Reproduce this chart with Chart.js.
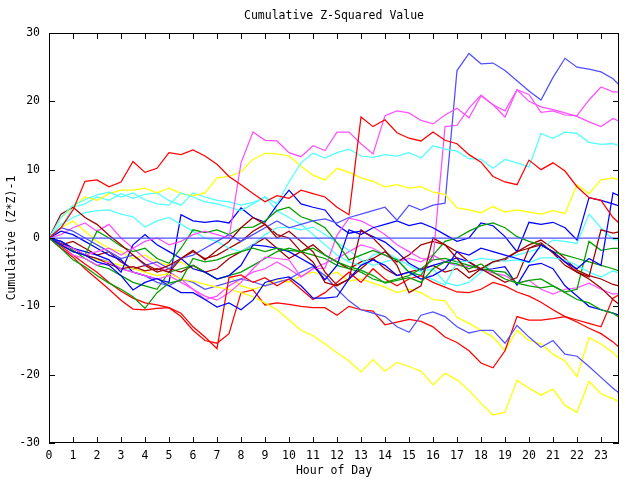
<!DOCTYPE html>
<html>
<head>
<meta charset="utf-8">
<script src="https://cdn.jsdelivr.net/npm/chart.js@4.4.1/dist/chart.umd.min.js"></script>
<style>
html,body{margin:0;padding:0;background:#ffffff;}
#wrap{width:640px;height:480px;}
</style>
</head>
<body>
<div id="wrap"><canvas id="c" width="640" height="480"></canvas></div>
<script>
const TITLE = 'Cumulative Z-Squared Value';
const X_TITLE = 'Hour of Day';
const Y_TITLE = 'Cumulative (Z*Z)-1';
const X_TICKS = [0,1,2,3,4,5,6,7,8,9,10,11,12,13,14,15,16,17,18,19,20,21,22,23];
const Y_TICKS = [-30,-20,-10,0,10,20,30];
const HOURS = [0,0.5,1,1.5,2,2.5,3,3.5,4,4.5,5,5.5,6,6.5,7,7.5,8,8.5,9,9.5,10,10.5,11,11.5,12,12.5,13,13.5,14,14.5,15,15.5,16,16.5,17,17.5,18,18.5,19,19.5,20,20.5,21,21.5,22,22.5,23,23.5,23.75];

const SLATE_ZERO = [0,0,0,0,0,0,0,0,0,0,0,0,0,0,0,0,0,0,0,0,0,0,0,0,0,0,0,0,0,0,0,0,0,0,0,0,0,0,0,0,0,0,0,0,0,0,0,0,0];
const RED_A = [0,1.5, 4.1,8.3, 8.5,7.5, 8.2,11.2, 9.6,10.2, 12.5,12.2, 12.9,12, 10.8,9, 7.8,6.5, 5.3,6.2, 5.8,7, 6.5,6, 4.5,3.4, 17.7,16.3, 17.3,15.4, 14.6,14.2, 15.5,14.3, 13.8,12.2, 11.1,9, 8.2,7.8, 11.4,10, 11,9.8, 7.5,5.9, 5.5,3, 2.2];
const RED_B = [0,-1.5, -2.8,-4.5, -6,-7.5, -9.1,-10.4, -10.5,-10.3, -10.2,-11, -13,-14.5, -16.2,-5.8, -5.4,-6.5, -5.8,-7, -6,-7.5, -9,-8, -6.5,-5, -6.5,-4.5, -6,-7, -6,-5.5, -6.5,-7.2, -7.9,-8, -7.5,-6.5, -7,-7.9, -8.5,-9.4, -10.5,-11.5, -12.3,-13.2, -14,-15.2, -16];
const RED_C = [0,-1.2, -2.5,-3.8, -5,-6.5, -7.8,-8.8, -9.5,-9.8, -10.2,-11.5, -13.5,-15, -15.4,-14, -8,-7.6, -9.8,-9.5, -9.7,-10, -10.2,-10.2, -11.3,-10, -10.5,-10.7, -12.7,-12.3, -11.9,-12.2, -13,-14.5, -15.3,-16.5, -18.3,-19, -16.5,-11.5, -12,-12, -11.8,-11.5, -12,-12.5, -13,-8.8, -8.3];
const DARK_A = [0,3.5, 4.5,3, 2,0.4, -1,-2.5, -3.8,-4.7, -4,-3, -1.8,-3.2, -1.8,-0.5, 1.5,3, 2,0, 1,-0.5, -2,-5, -6.9,-6, 1.2,0, -1.8,-4, -8,-7, 0,-1, -3,-5, -4.5,-3.5, -3,-2, -1.5,-1, -2,-3.5, -5,-5.7, 1.2,0.7, 0.9];
const DARK_B = [0,-0.8, -1.5,-2.5, -3,-3.8, -4.5,-4.2, -4.8,-4.5, -5,-3, -2,-3, -2.5,-1.5, -0.5,1, 2,0.5, 0,-2, -3.5,-6.5, -7,-6, -4.5,-3, -2,-3.5, -2.5,-1, -0.5,-1, -2,-3.5, -4.5,-5.5, -6.5,-5.8, -1.5,-0.7, -2.2,-4, -5,-6, -7.3,-9, -9.7];
const DARK_C = [0,-1, -0.5,-1.5, -2.5,-2, -3.5,-4.5, -4,-5, -4.5,-5, -4,-5, -4.5,-3, -2,-1, 0,-1.5, -3,-2, -1,-2.5, -3.5,-4.5, -3.5,-3, -4.5,-5.5, -5,-4.5, -4,-5, -4.5,-5.9, -4.5,-3.5, -3.2,-2, -1,-0.3, -1.5,-3, -4.7,-5.5, -6,-6.8, -7];
const GREEN_A = [0,-1.5, -3.2,-4.2, -5.5,-6.6, -7.5,-8.6, -10.3,-8, -6.6,-6.2, -3,-3.5, -3.2,-2.5, -2,-1.5, -2,-1.5, -1.8,-2, -1.5,-2.5, -3.5,-4.2, -4.7,-5.5, -6.6,-6.2, -5.8,-6.5, -4.5,-3.5, -3.8,-4.5, -3.8,-5, -6,-6.6, -6.2,-6, -7,-8, -9,-9.5, -10.5,-11, -11.6];
const GREEN_B = [0,-1, -2,-2.5, 1,0, -1.2,-2, -1.5,-3, -3.7,-1.5, 1.2,0.8, 1.2,0.5, 1.5,1.6, 2.5,4, 4.5,3.1, 2.5,1.5, -0.7,-3.2, -2.5,-1.8, -2.5,-3.2, -5,-5.5, -2.5,-0.5, 0,1, 1.8,2.2, 1.5,0.2, -0.5,-1, -2,-2.5, -3,-3.5, -4,-4.5, -4.8];
const GREEN_C = [0,-0.5, -1.8,-3, -4,-4.5, -5.5,-6.5, -7,-7.5, -5,-4.5, -4,-5, -6,-5.5, -5,-4, -3,-2, -1.5,-2, -2.5,-3, -4,-4.5, -5,-6, -6.5,-6, -5.5,-4.5, -3.2,-3, -3.5,-4, -4.5,-4.8, -5,-6.6, -7,-7.3, -7,-7.9, -7.5,-0.5, -1.8,-1.5, -1.5];
const BLUE_A = [0,-1, -2,-2.5, -3.5,-4, -5.5,-7.6, -6.5,-5.9, -7,-8, -8,-9, -10.1,-9.5, -10.5,-9.1, -6.5,-6, -5.7,-7, -8.8,-8.8, -8.6,-6, -4,-3.2, -4,-5.5, -5,-6, -5.5,-4.5, -2,-2.5, -1.5,-2, -2.5,-3, -3.5,-1, -2,-3.5, -4.5,-3, -4,6.6, 6.2];
const BLUE_B = [0,-0.5, -1.5,-2, -2.5,-3.2, -5,-1, 0.5,-1, -2,-3, -4.5,-5, -6,-5.5, -4,-1, -1.2,-1.5, -2,-3, -4,-6.1, -4,1.2, 0.5,1.5, 2,2.5, 1.8,2.2, 1.5,0.5, -0.5,0, 2.2,1.8, 0.2,-2, 2.3,2, 2.3,1.5, -0.3,5.9, 5.5,5, 4.7];
const BLUE_C = [0,1, 0.5,-0.5, -1.5,-2.5, -3.2,-5, -5.5,-6, -6.5,3.4, 2.5,2.3, 2.5,2.2, 4.4,3, 2.3,4.8, 7,5, 4.5,4.1, 1.9,0.7, 1,0.2, -0.6,-2, -3.7,-4.7, -4,-3.5, -2.9,-3.5, -4.7,-4.5, -4.2,-6.9, -4,-3.7, -4.5,-7, -8.5,-10, -10.5,-11, -11.3];
const SLATE_A = [0,1.5, 1,0, -1,-2, -3,-2.5, -4,-3.5, -4.5,-3, -2.5,-1.5, -0.5,0.5, -0.5,0.5, 1.5,2.5, 1.5,2, 2.5,2.8, 2.2,3, 3.5,4, 4.5,2.6, 4.8,4.1, 4.8,5.1, 24.5,27, 25.5,25.6, 24.5,23, 21.5,20.2, 23.5,26.3, 25,24.7, 24.3,23.3, 22.4];
const SLATE_B = [0,-0.5, -1.5,-2.5, -3,-3.5, -4.5,-5, -5.5,-6.5, -7,-6, -6.5,-7.5, -7,-6.5, -6,-6.4, -7,-6.5, -6,-5, -4.2,-5.5, -7.5,-9.2, -10.5,-11, -11.5,-13, -13.8,-11.3, -10.8,-11.5, -13,-13.9, -13.5,-13.5, -15.4,-12.8, -14.5,-16, -15,-17, -17.3,-18.8, -20.4,-22, -22.7];
const MAGENTA_A = [0,-1, -1.5,-2.5, -2,-1.5, -2.5,-1.5, -0.5,0, -1,-0.5, 0.5,1, 0.5,0, 11,15.5, 14.3,14.2, 12.5,11.9, 13.5,12.8, 15.5,15.5, 13.8,12.3, 17.9,18.6, 18.3,17.2, 16.7,18, 19,17.6, 20.8,19.5, 17.7,21.7, 21,18.4, 18.6,18, 17.9,20.2, 22.1,21.4, 21.4];
const MAGENTA_B = [0,-1.5, -2.5,-3, -4,-3.5, -4.5,-5, -5.5,-6, -5.5,-6.5, -7.5,-8.5, -9.1,-8, -6.5,-4.5, -2.8,-3, -3.2,-5.7, -4.5,-4.4, 0.4,2.9, 2.5,1.6, 0.5,-1, -2,-3, -3.2,16.3, 16.5,19, 20.9,19.5, 18.6,21.7, 20,19.2, 18.8,18.3, 17.8,17, 16.3,17.5, 17.1];
const MAGENTA_C = [0,0.5, 1.5,2.2, 1,2, 0,-1.5, -3,-4, -5,-6, -7.5,-9, -8.5,-7, -6,-5, -4.5,-3.5, -4.5,-5.7, -4.5,-3.7, -3,-2, -1,-1.5, -2.5,-3.5, -3,-3.5, -2.5,-3.5, -4,-4.2, -4.5,-5.1, -5.5,-6.6, -6.2,-7.5, -8.2,-7.5, -7.3,-6.6, -7.5,-8.2, -8.1];
const CYAN_A = [0,3, 4.8,5.6, 6.3,6.7, 6,6.6, 5.6,5, 4.8,6.6, 6,5.3, 5,4.5, 4,5, 6,5, 8.2,11, 12.4,11.7, 12.5,13, 12,11.8, 12.2,12, 12.5,11.7, 13.5,13, 12.7,11.6, 11.5,10.2, 11.5,11, 10.4,15.3, 14.6,15.5, 15.3,14, 13.7,13.8, 13.5];
const CYAN_B = [0,2, 3,3.7, 4,4.1, 3.5,3.1, 1.6,2.5, 3,2, 1,0, -0.5,-1.5, -2,-1, 0.5,1.5, 1.6,1.2, 1.6,0.5, -0.7,-1.8, -3.2,-4, -3.5,-3, -5.1,-5.4, -6.1,-6.9, -3.5,-3.4, -3,-3.2, -3.4,-3.2, -3.6,-2.9, -2.9,-3.2, -4,-5, -5.7,-4.8, -5.1];
const CYAN_C = [0,1.5, 4.5,5, 6,5.5, 6.5,5.8, 6.4,6.6, 5.5,4.8, 6.6,6, 5.5,5.3, 4.8,5.2, 6,4, 3,2, 0.5,-1, -2.5,-3.5, -4,-2.5, -2,-3, -4,-5, -4.5,-6.5, -7,-6.5, -5,-3.5, -3,-2.5, -2,-1.5, -0.3,-0.5, -0.8,3.5, 1.5,-0.2, -0.3];
const YELLOW_A = [0,3, 4.5,6, 5.5,6.5, 7,7, 7.3,6.6, 7.3,6.5, 6.2,6.6, 8.8,9, 9.7,11.5, 12.4,12.3, 12,10.5, 9.2,8.5, 10.2,9.6, 8.8,8.3, 7.5,7.8, 7.3,7.5, 6.7,6.4, 4.4,4.1, 3.7,4.6, 3.8,4.1, 3.8,3.5, 4,3.6, 7.8,6.5, 8.5,8.8, 8.5];
const YELLOW_B = [0,-1, -2,-2.5, -3.2,-3.5, -4,-4.5, -5,-5.5, -5.2,-6, -6.3,-6.8, -7.2,-7.5, -8,-8.6, -9.5,-10.5, -12,-13.5, -14.3,-15.5, -16.8,-18, -19.6,-17.8, -19.5,-18.2, -18.8,-19.5, -21.5,-19.8, -20.8,-22.3, -24.2,-25.9, -25.5,-20.8, -22,-23, -22.1,-24.5, -25.5,-21, -22.8,-23.5, -24];
const YELLOW_C = [0,1.5, 2.5,1, -0.5,-1.5, -2,-3, -2.5,-3.5, -4,-3.5, -4.5,-5, -6,-5.5, -7,-7.5, -7,-6, -6.5,-5.5, -5,-5.5, -5,-6.3, -6,-6.6, -7.2,-8, -7.5,-8, -9,-9.2, -11.6,-12.5, -13.5,-14.5, -16.5,-13.5, -15,-15.5, -17,-18, -20.3,-14.6, -15.5,-16.8, -17.6];

const C_RED = '#ff0000', C_DARK = '#a00000', C_GREEN = '#00a000', C_BLUE = '#0000ff',
      C_SLATE = '#5050ff', C_MAGENTA = '#ff50ff', C_CYAN = '#50ffff', C_YELLOW = '#ffff00';

const SERIES = [
  [SLATE_ZERO, C_SLATE],
  [RED_A, C_RED], [GREEN_A, C_GREEN], [BLUE_A, C_BLUE], [MAGENTA_A, C_MAGENTA],
  [CYAN_A, C_CYAN], [DARK_A, C_DARK], [YELLOW_A, C_YELLOW], [SLATE_A, C_SLATE],
  [RED_B, C_RED], [GREEN_B, C_GREEN], [BLUE_B, C_BLUE], [MAGENTA_B, C_MAGENTA],
  [CYAN_B, C_CYAN], [DARK_B, C_DARK], [YELLOW_B, C_YELLOW], [SLATE_B, C_SLATE],
  [RED_C, C_RED], [GREEN_C, C_GREEN], [BLUE_C, C_BLUE], [MAGENTA_C, C_MAGENTA],
  [CYAN_C, C_CYAN], [DARK_C, C_DARK], [YELLOW_C, C_YELLOW]
];

const FONT = {family: "'DejaVu Sans Mono', 'Liberation Mono', monospace", size: 11.5};

const frameAndTicks = {
  id: 'frameAndTicks',
  afterDraw(chart) {
    const {ctx, chartArea: a, scales} = chart;
    ctx.save();
    ctx.strokeStyle = '#000';
    ctx.lineWidth = 1;
    ctx.strokeRect(a.left + 0.5, a.top + 0.5, a.right - a.left - 1, a.bottom - a.top - 1);
    const L = 6;
    ctx.beginPath();
    X_TICKS.forEach(v => {
      const px = Math.round(scales.x.getPixelForValue(v)) + 0.5;
      ctx.moveTo(px, a.bottom); ctx.lineTo(px, a.bottom - L);
      ctx.moveTo(px, a.top); ctx.lineTo(px, a.top + L);
    });
    Y_TICKS.forEach(v => {
      const py = Math.round(scales.y.getPixelForValue(v)) + 0.5;
      ctx.moveTo(a.left, py); ctx.lineTo(a.left + L, py);
      ctx.moveTo(a.right, py); ctx.lineTo(a.right - L, py);
    });
    ctx.stroke();
    ctx.fillStyle = '#000';
    ctx.font = FONT.size + 'px ' + FONT.family;
    ctx.textAlign = 'center';
    ctx.textBaseline = 'middle';
    ctx.fillText(TITLE, (a.left + a.right) / 2, 16);
    ctx.restore();
  }
};

new Chart(document.getElementById('c'), {
  type: 'line',
  data: {
    datasets: SERIES.map(([vals, color]) => ({
      data: HOURS.map((h, i) => ({x: h, y: vals[i]})),
      borderColor: color,
      borderWidth: 1.25,
      pointRadius: 0,
      tension: 0,
      fill: false
    }))
  },
  options: {
    responsive: false,
    animation: false,
    devicePixelRatio: 1,
    layout: {padding: {top: 33, right: 21, left: 0, bottom: 0}},
    plugins: {legend: {display: false}, title: {display: false}, tooltip: {enabled: false}},
    scales: {
      x: {
        type: 'linear', min: 0, max: 23.75,
        afterBuildTicks: s => { s.ticks = X_TICKS.map(v => ({value: v})); },
        afterFit: s => { s.height = 37; },
        grid: {display: false, drawTicks: false},
        border: {display: false},
        ticks: {color: '#000', font: FONT, padding: 6, maxRotation: 0, autoSkip: false},
        title: {display: true, text: X_TITLE, color: '#000', font: FONT, padding: {top: 0, bottom: 2}}
      },
      y: {
        type: 'linear', min: -30, max: 30,
        afterBuildTicks: s => { s.ticks = Y_TICKS.map(v => ({value: v})); },
        afterFit: s => { s.width = 49; },
        grid: {display: false, drawTicks: false},
        border: {display: false},
        ticks: {color: '#000', font: FONT, padding: 9},
        title: {display: true, text: Y_TITLE, color: '#000', font: FONT, padding: {top: 5, bottom: 0}}
      }
    }
  },
  plugins: [frameAndTicks]
});
</script>
</body>
</html>
